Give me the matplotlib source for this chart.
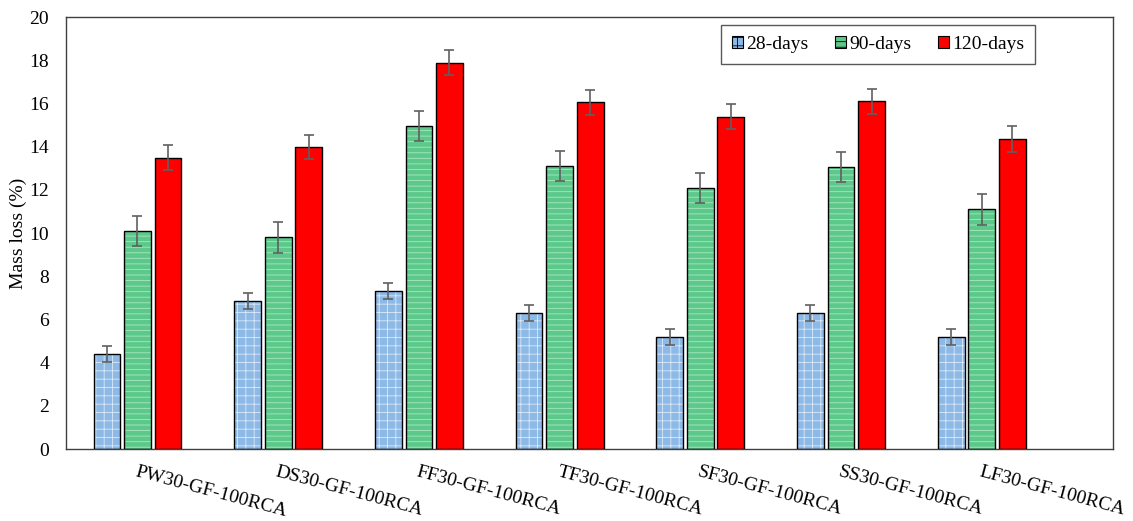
import matplotlib.pyplot as plt
import numpy as np

plt.rcParams['font.family'] = ['Liberation Serif', 'DejaVu Serif']
plt.rcParams['hatch.linewidth'] = 0.6

mixes = ["PW30-GF-100RCA", "DS30-GF-100RCA", "FF30-GF-100RCA", "TF30-GF-100RCA",
         "SF30-GF-100RCA", "SS30-GF-100RCA", "LF30-GF-100RCA"]
d28 = [4.4, 6.85, 7.3, 6.3, 5.2, 6.3, 5.2]
d90 = [10.1, 9.8, 14.95, 13.1, 12.1, 13.05, 11.1]
d120 = [13.5, 14.0, 17.9, 16.05, 15.4, 16.1, 14.35]
e28 = [0.37, 0.37, 0.37, 0.37, 0.37, 0.37, 0.37]
e90 = [0.7, 0.7, 0.7, 0.7, 0.7, 0.7, 0.7]
e120 = [0.56, 0.56, 0.58, 0.58, 0.56, 0.56, 0.6]

fig = plt.figure(figsize=(11.33, 5.21), dpi=100)
ax = fig.add_axes([0.058, 0.138, 0.924, 0.829])

x = np.arange(len(mixes))
w = 0.19
step = 0.217

series = [
    (d28, e28, "28-days", "#8DB9E6", "#DCEAF8", "++"),
    (d90, e90, "90-days", "#5CC98B", "#A9E7C2", "---"),
    (d120, e120, "120-days", "#FF0000", "#FF3030", ""),
]

handles = []
for k, (vals, errs, lab, fc, hc, hatch) in enumerate(series):
    pos = x + (k - 1) * step
    # fill + hatch first, then black outline on top
    ax.bar(pos, vals, w, color=fc, edgecolor=hc, hatch=hatch, linewidth=0, zorder=2)
    ax.bar(pos, vals, w, fill=False, edgecolor="black", linewidth=1, zorder=3)
    ax.errorbar(pos, vals, yerr=errs, fmt="none", ecolor="#606060",
                elinewidth=1.2, capsize=3.5, capthick=1.2, zorder=4)
    h = plt.Rectangle((0, 0), 1, 1, facecolor=fc, edgecolor="black",
                      hatch=hatch, linewidth=0.8)
    handles.append(h)

ax.set_xlim(-0.51, 6.93)
ax.set_ylim(0, 20)
ax.set_yticks(range(0, 21, 2))
ax.set_xticks(x)
ax.set_xticklabels(mixes, rotation=-15, ha="left", va="top",
                   rotation_mode="anchor", fontsize=14)
ax.tick_params(axis="both", length=0, labelsize=14)
ax.tick_params(axis="x", pad=10)
ax.tick_params(axis="y", pad=12)
ax.set_ylabel("Mass loss (%)", fontsize=14, labelpad=2)

for s in ax.spines.values():
    s.set_color("#404040")
    s.set_linewidth(1)

leg = ax.legend(handles, ["28-days", "90-days", "120-days"], ncol=3,
                loc="upper right", bbox_to_anchor=(0.926, 0.981), fontsize=14,
                fancybox=False, edgecolor="#303030", handlelength=0.6,
                handleheight=0.6, handletextpad=0.15, columnspacing=1.35,
                borderpad=0.55, borderaxespad=0)
leg.get_frame().set_linewidth(1)

fig.savefig("out.png", dpi=100)
